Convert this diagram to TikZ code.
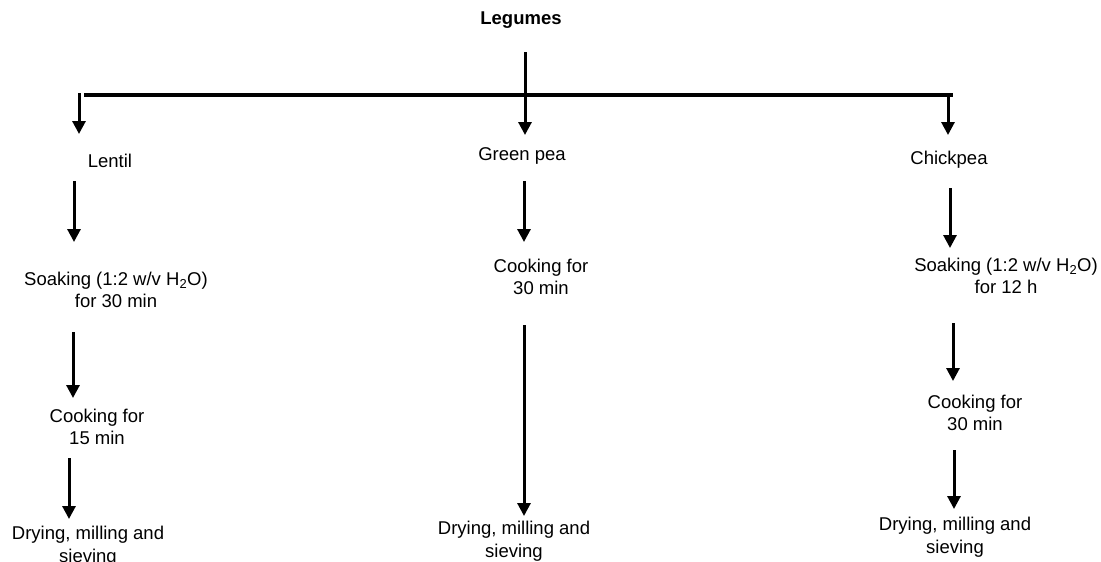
\documentclass[tikz,border=0pt]{standalone}
\usepackage{fontspec}
\setmainfont{Liberation Sans}
\usetikzlibrary{arrows.meta}
\begin{document}
\begin{tikzpicture}[x=1pt,y=-1pt,
  lbl/.style={inner sep=0pt,align=center,font=\fontsize{18.5}{22.5}\selectfont},
  flow/.style={line width=3pt,-{Triangle[width=13pt,length=13pt]}},
  barline/.style={line width=4pt}]
\useasboundingbox (0,0) rectangle (1101,562);
% texts
\node[lbl,font=\fontsize{18.5}{22.5}\selectfont\bfseries] (leg) at (521,20) {Legumes};
\node[lbl] (lentil) at (110,161) {Lentil};
\node[lbl] (gpea) at (522,156) {Green pea};
\node[lbl] (chick) at (949,160) {Chickpea};
\node[lbl] (ls) at (116,290) {Soaking (1:2 w/v H\textsubscript{2}O)\\for 30 min};
\node[lbl] (lc) at (97,427) {Cooking for\\15 min};
\node[lbl] (ld) at (88,546) {Drying, milling and\\sieving};
\node[lbl] (gc) at (541,277) {Cooking for\\30 min};
\node[lbl] (gd) at (514,541) {Drying, milling and\\sieving};
\node[lbl] (cs) at (1006,276) {Soaking (1:2 w/v H\textsubscript{2}O)\\for 12 h};
\node[lbl] (cc) at (975,413) {Cooking for\\30 min};
\node[lbl] (cd) at (955,537) {Drying, milling and\\sieving};
% connector points
\coordinate (barL) at (84,95);
\coordinate (barR) at (953,95);
\coordinate (a0s) at (79,93);   \coordinate (a0e) at (79,134);
\coordinate (a1s) at (74,181);  \coordinate (a1e) at (74,242);
\coordinate (a2s) at (73,332);  \coordinate (a2e) at (73,398);
\coordinate (a3s) at (69,458);  \coordinate (a3e) at (69,519);
\coordinate (c0s) at (525,52);  \coordinate (c0e) at (525,135);
\coordinate (c1s) at (524,181); \coordinate (c1e) at (524,242);
\coordinate (c2s) at (524,325); \coordinate (c2e) at (524,516);
\coordinate (r0s) at (948,93);  \coordinate (r0e) at (948,135);
\coordinate (r1s) at (950,188); \coordinate (r1e) at (950,248);
\coordinate (r2s) at (953,323); \coordinate (r2e) at (953,381);
\coordinate (r3s) at (954,450); \coordinate (r3e) at (954,509);
% connectors
\draw[barline] (barL) -- (barR);
\draw[flow] (c0s) -- (c0e);
\draw[flow] (a0s) -- (a0e);
\draw[flow] (r0s) -- (r0e);
\draw[flow] (a1s) -- (a1e);
\draw[flow] (a2s) -- (a2e);
\draw[flow] (a3s) -- (a3e);
\draw[flow] (c1s) -- (c1e);
\draw[flow] (c2s) -- (c2e);
\draw[flow] (r1s) -- (r1e);
\draw[flow] (r2s) -- (r2e);
\draw[flow] (r3s) -- (r3e);
\end{tikzpicture}
\end{document}
